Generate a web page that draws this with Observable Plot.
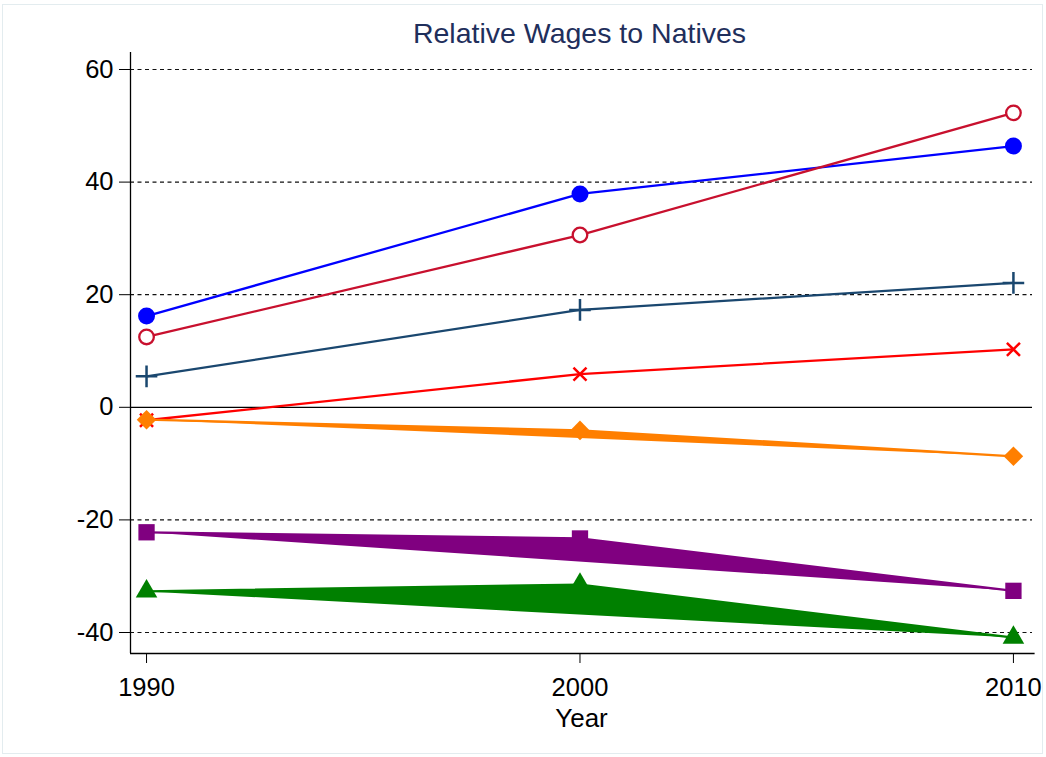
<!DOCTYPE html>
<html>
<head>
<meta charset="utf-8">
<script src="https://cdn.jsdelivr.net/npm/d3@7"></script>
<script src="https://cdn.jsdelivr.net/npm/@observablehq/plot@0.6"></script>
<style>
  html, body { margin: 0; padding: 0; background: #fff; }
  #wrap { position: relative; width: 1046px; height: 757px; }
  #border { position: absolute; left: 2px; top: 4px; width: 1041px; height: 750px; border: 1px solid #e3ecef; box-sizing: border-box; pointer-events: none; }
  svg { font-family: "Liberation Sans", Arial, sans-serif; }
  svg g[aria-label$="tick label"] { font-size: 25.5px; }
</style>
</head>
<body>
<div id="wrap"><div id="border"></div></div>
<script>
const title = "Relative Wages to Natives";
const xLabel = "Year";
const years = [1990, 2000, 2010];
const xTicks = [1990, 2000, 2010];
const yTicks = [-40, -20, 0, 20, 40, 60];

const seriesNames = ["blue", "crimson", "navy", "red", "orange", "purple", "green"];
const blueVals    = [16.2, 37.9, 46.4];
const crimsonVals = [12.5, 30.6, 52.3];
const navyVals    = [5.5, 17.3, 22.1];
const redVals     = [-2.3, 5.9, 10.3];
const orangeVals  = [-2.2, -4.1, -8.7];
const purpleVals  = [-22.2, -23.3, -32.6];
const greenVals   = [-32.7, -31.5, -40.9];

const rows = (vals) => years.map((yr, i) => ({year: yr, value: vals[i]}));

const xDom = [1989.63, 2010.44];
const yDom = [-43.73, 63.02];

const lineW = 2.3;
const chart = Plot.plot({
  width: 1046,
  height: 757,
  marginLeft: 130,
  marginRight: 14,
  marginTop: 52,
  marginBottom: 104,
  style: {fontFamily: "'Liberation Sans', Arial, sans-serif", background: "transparent"},
  x: {domain: xDom, ticks: xTicks, tickFormat: d => String(d), label: null},
  y: {domain: yDom, ticks: yTicks, label: null},
  marks: [
    Plot.ruleY([60, 40, 20, -20, -40], {stroke: "#111", strokeDasharray: "4,3.5", strokeWidth: 1.2}),
    Plot.ruleY([0], {stroke: "#000", strokeWidth: 1.3}),
    Plot.ruleX([xDom[0]], {stroke: "#000", strokeWidth: 1.3}),
    Plot.ruleY([yDom[0]], {stroke: "#000", strokeWidth: 1.3, x1: xDom[0], x2: 2010.5}),
    Plot.axisY({ticks: yTicks, tickSize: 11, tickPadding: 6, fontSize: 25.5, label: null, stroke: "#000", fill: "#000", tickFormat: d => String(d)}),
    Plot.axisX({ticks: xTicks, tickSize: 10, tickPadding: 14, fontSize: 25.5, label: null, stroke: "#000", fill: "#000", tickFormat: d => String(d)}),
    Plot.text([xLabel], {frameAnchor: "bottom", lineAnchor: "middle", dy: 65, text: d => d, fontSize: 26, fill: "#000"}),
    Plot.text([title], {frameAnchor: "top", lineAnchor: "middle", dy: -19, dx: -2, text: d => d, fontSize: 28.5, fill: "#1f2f5c"}),

    // blue, filled circles
    Plot.line(rows(blueVals), {x: "year", y: "value", stroke: "#0000ff", strokeWidth: lineW}),
    Plot.dot(rows(blueVals), {x: "year", y: "value", symbol: "circle", fill: "#0000ff", r: 8.5}),
    // crimson, hollow circles
    Plot.line(rows(crimsonVals), {x: "year", y: "value", stroke: "#c8102e", strokeWidth: lineW}),
    Plot.dot(rows(crimsonVals), {x: "year", y: "value", symbol: "circle", fill: "white", stroke: "#c8102e", strokeWidth: 2.3, r: 7.3}),
    // navy, plus
    Plot.line(rows(navyVals), {x: "year", y: "value", stroke: "#1a476f", strokeWidth: lineW}),
    Plot.dot(rows(navyVals), {x: "year", y: "value", symbol: "plus", stroke: "#1a476f", strokeWidth: 2.5, r: 7}),
    // red, times
    Plot.line(rows(redVals), {x: "year", y: "value", stroke: "#ff0000", strokeWidth: lineW}),
    Plot.dot(rows(redVals), {x: "year", y: "value", symbol: "times", stroke: "#ff0000", strokeWidth: 2.5, r: 6}),
    // orange, filled polygon + diamonds
    Plot.line(rows(orangeVals), {x: "year", y: "value", stroke: "#ff7f00", fill: "#ff7f00", strokeWidth: lineW}),
    Plot.dot(rows(orangeVals), {x: "year", y: "value", symbol: "square", rotate: 45, fill: "#ff7f00", r: 7.8}),
    // purple, filled polygon + squares
    Plot.line(rows(purpleVals), {x: "year", y: "value", stroke: "#800080", fill: "#800080", strokeWidth: lineW}),
    Plot.dot(rows(purpleVals), {x: "year", y: "value", symbol: "square", fill: "#800080", r: 9.2}),
    // green, filled polygon + triangles
    Plot.line(rows(greenVals), {x: "year", y: "value", stroke: "#008000", fill: "#008000", strokeWidth: lineW}),
    Plot.dot(rows(greenVals), {x: "year", y: "value", symbol: "triangle", fill: "#008000", r: 8})
  ]
});
document.getElementById("wrap").appendChild(chart);
</script>
</body>
</html>
